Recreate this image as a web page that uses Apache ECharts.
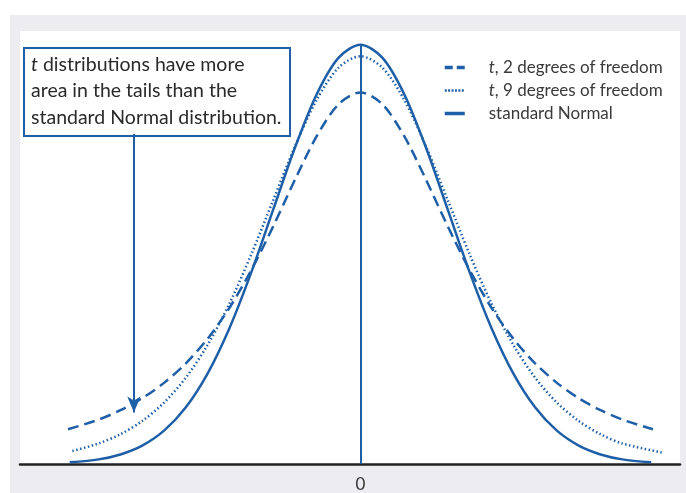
<!DOCTYPE html>
<html>
<head>
<meta charset="utf-8">
<script src="https://cdn.jsdelivr.net/npm/echarts@6/dist/echarts.min.js"></script>
<style>
  html, body { margin: 0; padding: 0; background: #ffffff; }
  #frame { position: absolute; left: 10px; top: 15px; width: 676px; height: 478px; background: #ececf1; }
  #chart { width: 676px; height: 478px; }
</style>
</head>
<body>
<div id="frame"><div id="chart"></div></div>
<script>
// Data (x in standard units, y as density)
const seriesNames = ['t, 2 degrees of freedom', 't, 9 degrees of freedom', 'standard Normal'];
const xTickLabels = [0];

const t2X = [-3.35, -3, -2.75, -2.5, -2.25, -2, -1.75, -1.5, -1.25, -1, -0.75, -0.5, -0.25, 0,
             0.25, 0.5, 0.75, 1, 1.25, 1.5, 1.75, 2, 2.25, 2.5, 2.75, 3, 3.35];
const t2Y = [0.0330, 0.0422, 0.0512, 0.0626, 0.0772, 0.0958, 0.1193, 0.1487, 0.1846, 0.2261, 0.2706, 0.3121, 0.3424, 0.3536,
             0.3424, 0.3121, 0.2706, 0.2261, 0.1846, 0.1487, 0.1193, 0.0958, 0.0772, 0.0626, 0.0512, 0.0422, 0.0330];

const t9X = [-3.3, -3, -2.75, -2.5, -2.25, -2, -1.75, -1.5, -1.25, -1, -0.75, -0.5, -0.25, 0,
             0.25, 0.5, 0.75, 1, 1.25, 1.5, 1.75, 2, 2.25, 2.5, 2.75, 3, 3.45];
const t9Y = [0.0124, 0.0195, 0.0283, 0.0409, 0.0584, 0.0822, 0.1135, 0.1528, 0.1996, 0.2510, 0.3023, 0.3467, 0.3772, 0.3880,
             0.3772, 0.3467, 0.3023, 0.2510, 0.1996, 0.1528, 0.1135, 0.0822, 0.0584, 0.0409, 0.0283, 0.0195, 0.0110];

const normalX = [-3.33, -3, -2.75, -2.5, -2.25, -2, -1.75, -1.5, -1.25, -1, -0.75, -0.5, -0.25, 0,
                 0.25, 0.5, 0.75, 1, 1.25, 1.5, 1.75, 2, 2.25, 2.5, 2.75, 3, 3.33];
const normalY = [0.0016, 0.0044, 0.0091, 0.0175, 0.0317, 0.0540, 0.0863, 0.1295, 0.1826, 0.2420, 0.3011, 0.3521, 0.3867, 0.3989,
                 0.3867, 0.3521, 0.3011, 0.2420, 0.1826, 0.1295, 0.0863, 0.0540, 0.0317, 0.0175, 0.0091, 0.0044, 0.0016];

// annotation arrow (data coordinates)
const arrowX = -2.595;
const arrowTopY = 0.314;
const arrowTipY = 0.049;

const BLUE = '#1f5fa8';
const pair = (xs, ys) => xs.map((x, i) => [x, ys[i]]);

const chart = echarts.init(document.getElementById('chart'), null, { renderer: 'canvas' });
chart.setOption({
  animation: false,
  backgroundColor: 'transparent',
  grid: { left: 10, right: 6, top: 16, bottom: 25, show: true, backgroundColor: '#ffffff', borderWidth: 0 },
  xAxis: {
    type: 'value', min: -3.9, max: 3.66,
    axisLine: { show: true, onZero: false, lineStyle: { color: '#222222', width: 2.5 } },
    axisTick: { show: false },
    splitLine: { show: false },
    axisLabel: { customValues: xTickLabels, color: '#333333', fontSize: 17, fontFamily: 'Lato', margin: 12 }
  },
  yAxis: {
    type: 'value', min: 0, max: 0.412,
    axisLine: { show: false }, axisTick: { show: false }, splitLine: { show: false }, axisLabel: { show: false }
  },
  legend: {
    left: 428, top: 39, orient: 'vertical',
    itemWidth: 20, itemHeight: 14, itemGap: 6,
    selectedMode: false,
    data: [
      { name: seriesNames[0], lineStyle: { type: [8, 4], width: 3.5 } },
      { name: seriesNames[1], lineStyle: { type: [2, 1.4], width: 2.5 } },
      { name: seriesNames[2], lineStyle: { width: 3.5 } }
    ],
    itemStyle: { opacity: 0 },
    formatter: (name) => name.startsWith('t,') ? '{i|t}' + name.slice(1) : name,
    textStyle: {
      color: '#3a3a3a', fontSize: 17, fontFamily: 'Lato', padding: [0, 0, 0, 19],
      rich: { i: { fontStyle: 'italic', fontSize: 17, fontFamily: 'Lato', color: '#3a3a3a' } }
    }
  },
  graphic: [
    {
      type: 'rect', left: 13, top: 32, silent: true,
      shape: { width: 266, height: 88 },
      style: { fill: '#ffffff', stroke: BLUE, lineWidth: 2 }
    },
    {
      type: 'text', left: 21, top: 36, silent: true,
      style: {
        text: '{i|t} distributions have more\narea in the tails than the\nstandard Normal distribution.',
        fill: '#2a2a2a', fontSize: 19.5, fontFamily: 'Lato', lineHeight: 26.5,
        rich: { i: { fontStyle: 'italic', fontSize: 19.5, fontFamily: 'Lato', fill: '#2a2a2a', lineHeight: 26.5 } }
      }
    }
  ],
  series: [
    {
      name: seriesNames[0], type: 'line', smooth: 0.3, symbol: 'none', silent: true,
      data: pair(t2X, t2Y),
      lineStyle: { color: BLUE, width: 2.5, type: [11, 6] },
      itemStyle: { color: BLUE },
      markLine: {
        silent: true, symbol: ['none', 'arrow'], symbolSize: [10, 16],
        label: { show: false },
        lineStyle: { color: BLUE, width: 2, type: 'solid' },
        data: [[{ coord: [arrowX, arrowTopY] }, { coord: [arrowX, arrowTipY] }]]
      }
    },
    {
      name: seriesNames[1], type: 'line', smooth: 0.3, symbol: 'none', silent: true,
      data: pair(t9X, t9Y),
      lineStyle: { color: BLUE, width: 2.5, type: [1.5, 2.5] },
      itemStyle: { color: BLUE }
    },
    {
      name: seriesNames[2], type: 'line', smooth: 0.3, symbol: 'none', silent: true,
      data: pair(normalX, normalY),
      lineStyle: { color: BLUE, width: 2.5 },
      itemStyle: { color: BLUE },
      markLine: {
        silent: true, symbol: ['none', 'none'],
        label: { show: false },
        lineStyle: { color: BLUE, width: 2, type: 'solid' },
        data: [[{ coord: [0, 0] }, { coord: [0, 0.3989] }]]
      }
    }
  ]
});
</script>
</body>
</html>
